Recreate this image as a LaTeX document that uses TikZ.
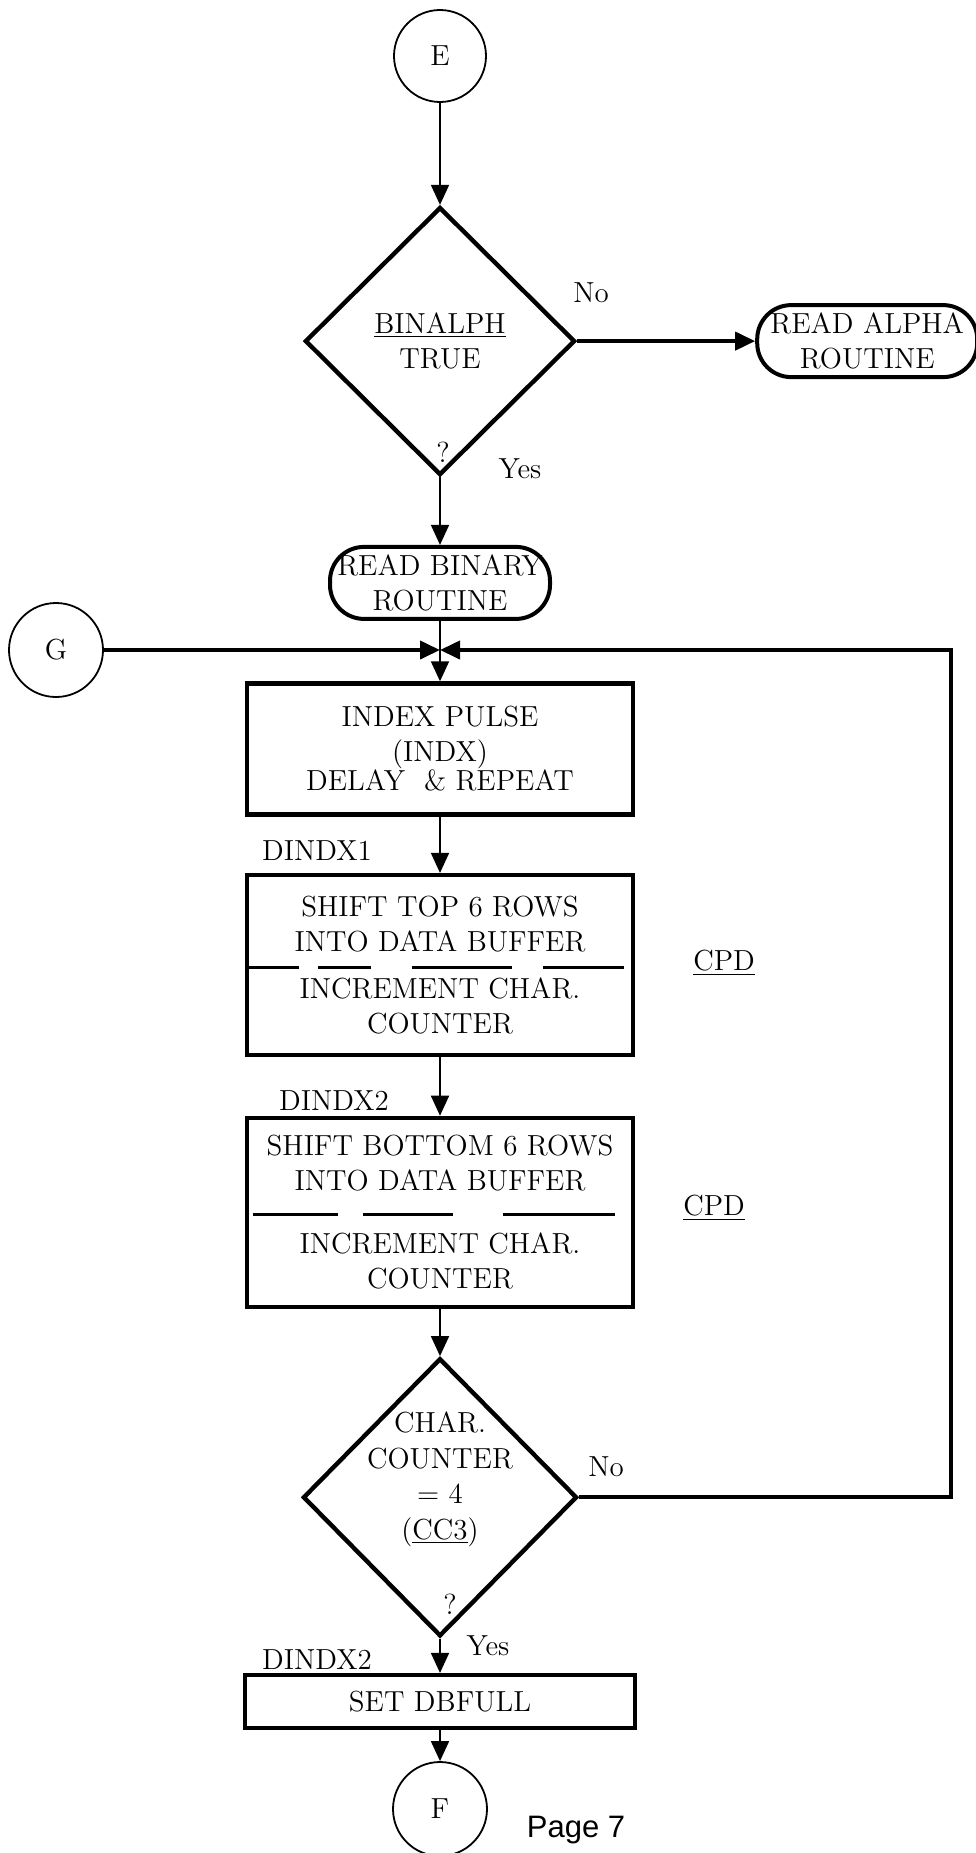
\documentclass[tikz,border=0pt]{standalone}
\usepackage{fontspec}
\newfontfamily\pagefont{Liberation Sans}
\usepackage{tikz}
\usetikzlibrary{positioning, arrows.meta, calc, shapes.geometric}

\begin{document}
\begin{tikzpicture}[x=1pt, y=-1pt,
  font=\fontsize{14.5}{17.5}\selectfont,
  conn/.style={draw, circle, line width=0.9pt, minimum size=46pt, inner sep=0pt},
  decide/.style={draw, diamond, line width=2.2pt, inner sep=0pt, align=center},
  term/.style={draw, rectangle, rounded corners=17pt, line width=2pt, align=center, inner sep=1pt, minimum width=110pt, minimum height=36pt},
  proc/.style={draw, rectangle, line width=2.2pt, align=center, inner sep=2pt, minimum width=193pt},
  arr/.style={-{Triangle[length=10pt, width=9pt]}, line width=0.9pt},
  loopline/.style={line width=2pt},
  sepline/.style={line width=1.6pt},
  lbl/.style={inner sep=0pt},
]
\useasboundingbox (0,0) rectangle (487.5,926.5);

% --- Entry and first decision ---
\node[conn] (E) at (220,28) {E};
\node[decide, minimum width=135pt, minimum height=134pt, below=51pt of E] (bin) {\underline{BINALPH}\\TRUE};
\node[term, right=89pt of bin] (ralpha) {READ ALPHA\\ROUTINE};
\node[term, below=33.8pt of bin] (rbin) {READ BINARY\\ROUTINE};

\draw[arr] (E) -- (bin);
\draw[arr, line width=2pt] (bin.east) -- (ralpha.west);
\draw[arr] (bin.south) -- (rbin.north);

\node[lbl] (no1) at (295.5,146.5) {No};
\node[lbl] (q1) at (221.5,226) {?};
\node[lbl] (yes1) at (260,234.5) {Yes};

% --- Loop entry ---
\node[conn, minimum size=47pt] (G) at (28,325) {G};
\coordinate (jn) at (rbin.south |- G.east);

% --- Processing boxes ---
\node[proc, minimum height=65.5pt, below=30.2pt of rbin] (indx) {INDEX PULSE\\(INDX)\\[-3pt]DELAY \ \& REPEAT};
\node[proc, minimum height=90pt, below=28.1pt of indx] (shtop) {SHIFT TOP 6 ROWS\\INTO DATA BUFFER\\[6pt]INCREMENT CHAR.\\COUNTER};
\node[proc, minimum height=94.5pt, below=29.2pt of shtop] (shbot) {SHIFT BOTTOM 6 ROWS\\INTO DATA BUFFER\\[14pt]INCREMENT CHAR.\\COUNTER};

\draw[sepline, dash pattern=on 25pt off 9.5pt on 26.5pt off 20.5pt on 50pt off 15.5pt on 40.5pt off 20pt] ([xshift=2pt, yshift=-1pt]shtop.west) -- ([xshift=-3pt, yshift=-1pt]shtop.east);
\draw[sepline, dash pattern=on 42.5pt off 12.5pt on 45pt off 25pt on 56pt off 20pt] ([xshift=4pt, yshift=-1pt]shbot.west) -- ([xshift=-8pt, yshift=-1pt]shbot.east);

\draw[line width=0.9pt] (rbin.south) -- (jn);
\draw[arr] (jn) -- (indx.north);
\draw[arr] (indx) -- (shtop);
\draw[arr] (shtop) -- (shbot);

\node[lbl] (dx1) at (158.5,425.5) {DINDX1};
\node[lbl] (cpd1) at (362,481.5) {\underline{CPD}};
\node[lbl] (dx2) at (167,550.5) {DINDX2};
\node[lbl] (cpd2) at (357,604) {\underline{CPD}};

% --- Counter test ---
\node[decide, minimum width=137pt, minimum height=139pt, below=23.5pt of shbot] (cnt) {};
\node[lbl, align=center, font=\fontsize{14.5}{17.7}\selectfont] (cnttext) at ([yshift=9pt]cnt.center) {CHAR.\\COUNTER\\= 4\\(\underline{CC3})};
\draw[arr] (shbot) -- (cnt);

\draw[arr, loopline] (G.east) -- (jn);
\draw[arr, loopline] (cnt.east) -- ++(186,0) |- (jn);

\node[lbl] (no2) at (303,733.5) {No};
\node[lbl] (q2) at (225,802) {?};
\node[lbl] (yes2) at (244,823) {Yes};

% --- Exit ---
\node[proc, minimum width=195pt, minimum height=26.5pt, below=17.2pt of cnt] (dbfull) {SET DBFULL};
\node[conn, minimum size=47pt, below=15.4pt of dbfull] (F) {F};
\draw[arr] (cnt.south) -- (dbfull.north);
\draw[arr] (dbfull) -- (F);

\node[lbl] (dx3) at (158.5,830) {DINDX2};
\node[lbl, font=\pagefont\fontsize{15.5}{18}\selectfont] (pg) at (288,915) {Page 7};

\end{tikzpicture}
\end{document}
